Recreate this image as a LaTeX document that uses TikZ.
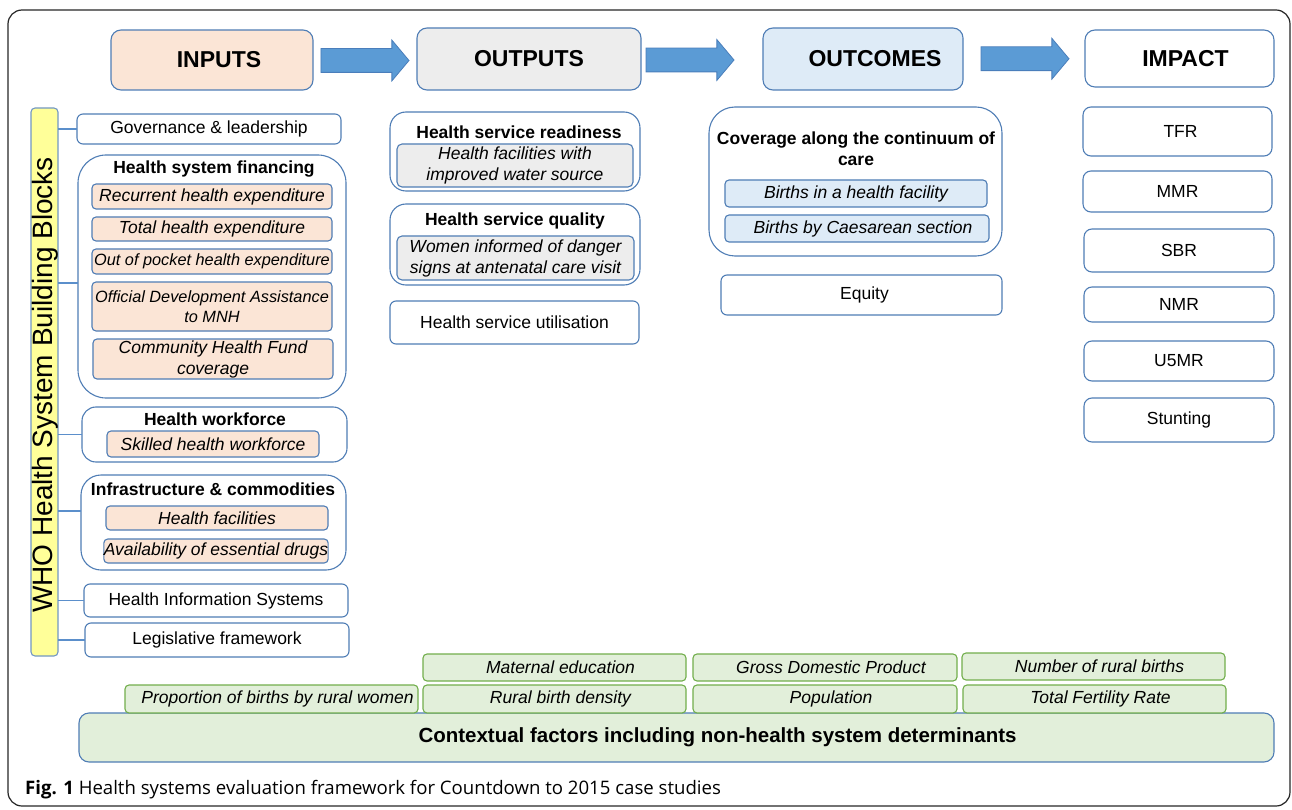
\documentclass[tikz,border=0pt]{standalone}
\usepackage{fontspec}
\setmainfont{Liberation Sans}
\newfontfamily\capfont{Open Sans}
\usetikzlibrary{shapes.arrows,calc}
\definecolor{bdr}{HTML}{4F7DB5}
\definecolor{peach}{HTML}{FBE5D6}
\definecolor{gry}{HTML}{EDEDED}
\definecolor{lblue}{HTML}{DEEBF7}
\definecolor{gfill}{HTML}{E2EFDA}
\definecolor{gbdr}{HTML}{72AE4C}
\definecolor{ylw}{HTML}{FFFF99}
\definecolor{arrfill}{HTML}{5B9BD5}
\definecolor{arrbdr}{HTML}{4A7EBB}
\definecolor{connc}{HTML}{5B8FCB}
\newcommand\fsn{\fontsize{17.5}{21}\selectfont}
\newcommand\fsc{\fontsize{16.3}{20}\selectfont}
\newcommand\fsh{\fontsize{23}{27}\selectfont}
% box from corners: name, style, x1, y1, x2, y2, text
\newcommand\bx[7]{%
  \pgfmathsetmacro\bxcx{(#3+#5)/2}%
  \pgfmathsetmacro\bxcy{(#4+#6)/2}%
  \pgfmathsetmacro\bxw{#5-#3}%
  \pgfmathsetmacro\bxh{#6-#4}%
  \node[#2, minimum width=\bxw pt, minimum height=\bxh pt] (#1) at (\bxcx,-\bxcy) {#7};}
\tikzset{
  base/.style={draw=bdr, line width=1.1pt, rounded corners=6pt, inner sep=0pt,
    outer sep=0pt, font=\fsn, align=center, text=black},
  wbox/.style={base, fill=white},
  hdr/.style={base, rounded corners=10pt, font=\fsh\bfseries},
  cont/.style={base, fill=white, rounded corners=28pt},
  pitem/.style={base, fill=peach, font=\fsn\itshape, rounded corners=4pt},
  gitem/.style={base, fill=gry, font=\fsn\itshape, rounded corners=5pt},
  bitem/.style={base, fill=lblue, font=\fsn\itshape, rounded corners=4pt},
  gritem/.style={base, draw=gbdr, fill=gfill, font=\fsn\itshape, rounded corners=4pt,
    execute at begin node={\hspace*{12pt}}},
  ttl/.style={font=\fsn\bfseries, inner sep=0pt, align=center},
  conn/.style={draw=connc, line width=1.3pt},
  blkarrow/.style={single arrow, draw=arrbdr, fill=arrfill, line width=0.8pt,
    single arrow head extend=8.5pt, single arrow tip angle=100,
    inner xsep=0pt, inner ysep=11.5pt, minimum height=88pt, outer sep=0pt}
}
\begin{document}
\begin{tikzpicture}[x=1pt,y=1pt]
\useasboundingbox (0,0) rectangle (1292,-810);
% outer frame
\draw[line width=1.2pt, rounded corners=14pt, black!85] (8,-10) rectangle (1290,-806);

% headers
\bx{inp}{hdr, fill=peach}{111}{30}{313}{90}{\hspace*{14pt}INPUTS}
\bx{outp}{hdr, fill=gry}{417}{28}{641}{90}{OUTPUTS}
\bx{outc}{hdr, fill=lblue}{763}{28}{963}{90}{\hspace*{24pt}OUTCOMES}
\bx{imp}{hdr, fill=white}{1085}{30}{1274}{87}{\hspace*{12pt}IMPACT}

% block arrows
\node[blkarrow] (a1) at ($(inp.east)!0.5!(outp.west)+(-5,-1)$) {};
\node[blkarrow] (a2) at ($(outp.east)!0.5!(outc.west)+(-17,-1)$) {};
\node[blkarrow] (a3) at ($(outc.east)!0.5!(imp.west)+(-4,0)$) {};

% WHO bar
\bx{bar}{base, fill=ylw, rounded corners=4pt, draw=bdr!80}{31}{108}{58}{656}{}
\node[rotate=90, font=\fontsize{28}{30}\selectfont, inner sep=0pt] (bartxt) at (45,-385) {WHO Health System Building Blocks};

% inputs column
\bx{gov}{wbox}{77}{114}{341}{144}{Governance \& leadership}
\bx{fin}{cont}{78}{155}{346}{398}{}
\node[ttl] (fint) at (214,-169) {Health system financing};
\bx{rhe}{pitem}{92}{184}{332}{209}{Recurrent health expenditure}
\bx{the}{pitem}{92}{217}{332}{241}{Total health expenditure}
\bx{ope}{pitem, font=\fsc\itshape}{92}{249}{332}{274}{Out of pocket health expenditure}
\bx{oda}{pitem, font=\fsc\itshape}{92}{282}{332}{331}{Official Development Assistance\\to MNH}
\bx{chf}{pitem}{93}{339}{333}{379}{Community Health Fund\\coverage}
\bx{wf}{cont, rounded corners=14pt}{82}{407}{347}{462}{}
\node[ttl] (wft) at (215,-419) {Health workforce};
\bx{shw}{pitem}{107}{431}{319}{457}{Skilled health workforce}
\bx{inf}{cont, rounded corners=20pt}{81}{475}{346}{570}{}
\node[ttl] (inft) at (213,-489) {Infrastructure \& commodities};
\bx{hf}{pitem}{106}{506}{328}{530}{Health facilities}
\bx{aed}{pitem}{104}{539}{328}{563}{Availability of essential drugs}
\bx{his}{wbox}{84}{584}{348}{617}{Health Information Systems}
\bx{leg}{wbox}{85}{623}{349}{657}{Legislative framework}

% connectors from bar
\draw[conn] (bar.east |- gov.west) -- (gov.west);
\draw[conn] (bar.east |- {(0,-283)}) -- (fin.west |- {(0,-283)});
\draw[conn] (bar.east |- wf.west) -- (wf.west);
\draw[conn] (bar.east |- {(0,-511)}) -- (inf.west |- {(0,-511)});
\draw[conn] (bar.east |- his.west) -- (his.west);
\draw[conn] (bar.east |- leg.west) -- (leg.west);

% outputs column
\bx{rdy}{cont, rounded corners=16pt}{390}{112}{640}{191}{}
\node[ttl] (rdyt) at (519,-132) {Health service readiness};
\bx{wat}{gitem}{397}{144}{633}{187}{Health facilities with\\improved water source}
\bx{qua}{cont, rounded corners=16pt}{390}{204}{640}{285}{}
\node[ttl] (quat) at (515,-221) {Health service quality};
\bx{dng}{gitem}{397}{236}{634}{280}{Women informed of danger\\signs at antenatal care visit}
\bx{utl}{wbox}{390}{301}{639}{344}{Health service utilisation}

% outcomes column
\bx{cov}{cont, rounded corners=26pt}{709}{107}{1002}{256}{}
\node[ttl] (covt) at (856,-148.5) {Coverage along the continuum of\\care};
\bx{bhf}{bitem}{725}{180}{987}{207}{Births in a health facility}
\bx{bcs}{bitem}{725}{215}{989}{242}{\hspace*{12pt}Births by Caesarean section}
\bx{eq}{wbox}{721}{275}{1002}{315}{\hspace*{6pt}Equity}

% impact column
\bx{tfr}{wbox, rounded corners=8pt}{1083}{107}{1272}{156}{\hspace*{6pt}TFR}
\bx{mmr}{wbox, rounded corners=8pt}{1083}{171}{1272}{212}{MMR}
\bx{sbr}{wbox, rounded corners=8pt}{1084}{229}{1274}{272}{SBR}
\bx{nmr}{wbox, rounded corners=8pt}{1084}{287}{1274}{322}{NMR}
\bx{u5}{wbox, rounded corners=8pt}{1084}{341}{1274}{381}{U5MR}
\bx{stn}{wbox, rounded corners=8pt}{1084}{398}{1274}{442}{Stunting}

% contextual factors
\bx{ctx}{base, fill=gfill, rounded corners=10pt, font=\fontsize{20.5}{24}\selectfont\bfseries}{79}{713}{1274}{762}{\hspace*{82pt}Contextual factors including non-health system determinants}
\bx{med}{gritem}{423}{654}{686}{681}{Maternal education}
\bx{gdp}{gritem}{693}{654}{957}{681}{Gross Domestic Product}
\bx{nrb}{gritem}{962}{653}{1225}{680}{Number of rural births}
\bx{prw}{gritem}{125}{685}{418}{713}{Proportion of births by rural women}
\bx{rbd}{gritem}{423}{685}{686}{713}{Rural birth density}
\bx{pop}{gritem}{693}{685}{957}{713}{Population}
\bx{tfrc}{gritem}{963}{685}{1226}{713}{Total Fertility Rate}

% caption
\node[anchor=west, inner sep=0pt, font=\capfont\fontsize{18.6}{22}\selectfont] (cap) at (25,-790)
  {\textbf{Fig. 1} Health systems evaluation framework for Countdown to 2015 case studies};
\end{tikzpicture}
\end{document}
